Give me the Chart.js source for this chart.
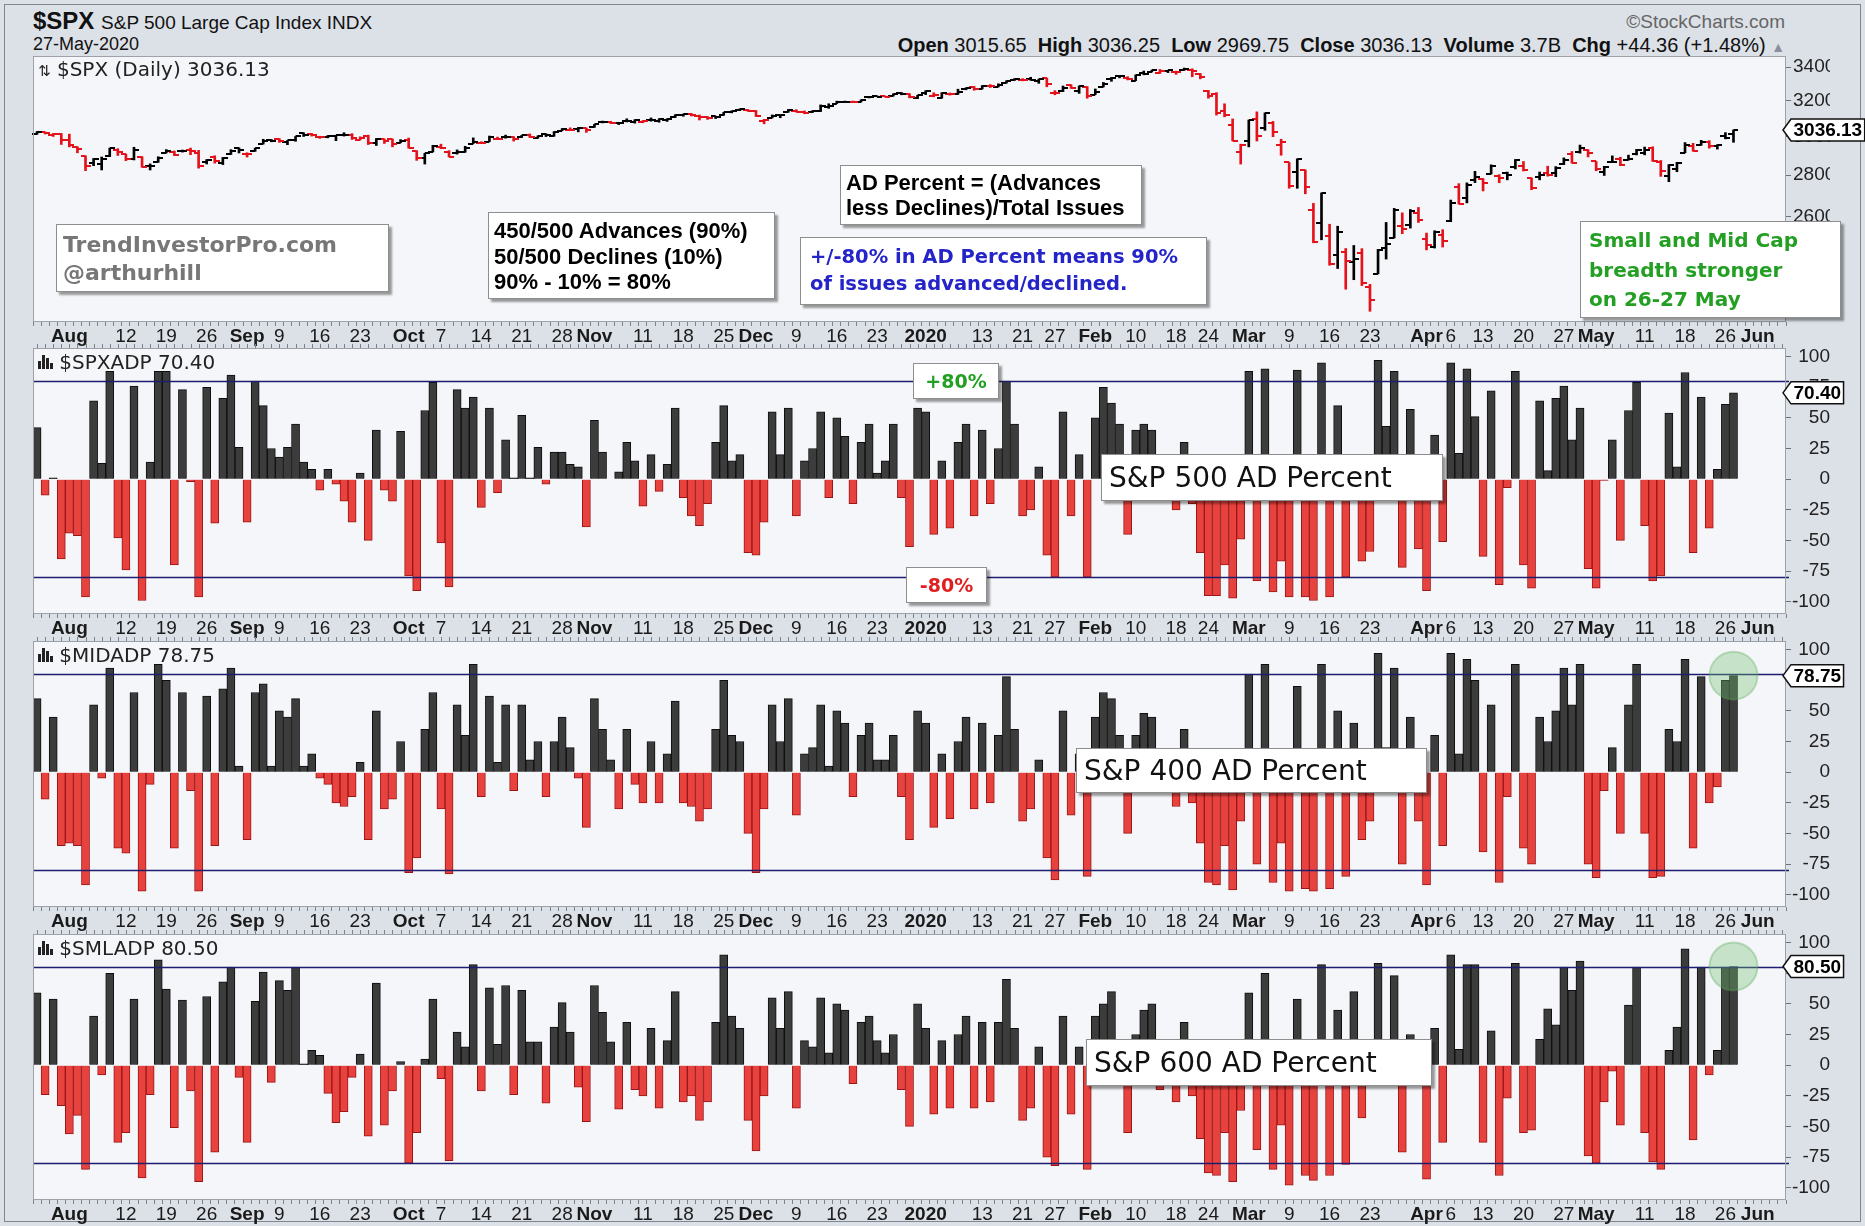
<!DOCTYPE html>
<html>
<head>
<meta charset="utf-8">
<title>$SPX AD Percent</title>
<script src="https://cdn.jsdelivr.net/npm/chart.js@4.4.1/dist/chart.umd.min.js"></script>
<style>
html,body{margin:0;padding:0}
body{width:1865px;height:1226px;position:relative;overflow:hidden;background:#dce0e7;font-family:"Liberation Sans",Arial,sans-serif;color:#111}
#frame{position:absolute;left:4px;top:4px;width:1857px;height:1218px;border:1px solid #80868f;box-sizing:border-box}
.cw{position:absolute;left:0;width:1865px;height:308px}
.t{position:absolute;white-space:nowrap}
.pt{position:absolute;left:38px;font-family:"DejaVu Sans",sans-serif;font-size:20px;line-height:20px;color:#222;white-space:nowrap}
.box{position:absolute;background:#fff;border:1px solid #8e8e8e;box-shadow:3px 3px 2px rgba(0,0,0,.38);box-sizing:border-box;white-space:nowrap}
.ar{font-family:"Liberation Sans",Arial,sans-serif;font-weight:bold;font-size:22px;color:#000}
.dj{font-family:"DejaVu Sans",sans-serif;font-weight:bold}
.big{font-family:"DejaVu Sans",sans-serif;font-size:28px;color:#111;line-height:45px;padding-left:7px}
</style>
</head>
<body>
<div id="frame"></div>

<div class="t" style="left:33px;top:8px;font-size:24px;line-height:25px;font-weight:bold">$SPX <span style="font-size:19px;font-weight:normal">S&amp;P 500 Large Cap Index INDX</span></div>
<div class="t" style="left:33px;top:35px;font-size:18px;line-height:19px">27-May-2020</div>
<div class="t" style="right:80px;top:12px;font-size:19px;line-height:20px;color:#666">©StockCharts.com</div>
<div class="t" style="right:80px;top:35px;font-size:20px;line-height:20px"><b>Open</b> 3015.65&nbsp; <b>High</b> 3036.25&nbsp; <b>Low</b> 2969.75&nbsp; <b>Close</b> 3036.13&nbsp; <b>Volume</b> 3.7B&nbsp; <b>Chg</b> +44.36 (+1.48%) <span style="color:#8a8f99;font-size:14px">▲</span></div>

<div class="cw" style="top:40px"><canvas id="cPrice" width="1865" height="308"></canvas></div>
<div class="cw" style="top:332px"><canvas id="cSpx" width="1865" height="308"></canvas></div>
<div class="cw" style="top:625px"><canvas id="cMid" width="1865" height="308"></canvas></div>
<div class="cw" style="top:918px"><canvas id="cSml" width="1865" height="308"></canvas></div>

<div class="pt" style="top:59px"><span style="font-size:15px">⇅</span> $SPX (Daily) 3036.13</div>
<div class="pt" style="top:352px"><svg width="15" height="15" viewBox="0 0 15 15"><rect x="0" y="7" width="3" height="8" fill="#222"/><rect x="4" y="1" width="3" height="14" fill="#222"/><rect x="8" y="4" width="3" height="11" fill="#222"/><rect x="12" y="9" width="3" height="6" fill="#222"/></svg> $SPXADP 70.40</div>
<div class="pt" style="top:645px"><svg width="15" height="15" viewBox="0 0 15 15"><rect x="0" y="7" width="3" height="8" fill="#222"/><rect x="4" y="1" width="3" height="14" fill="#222"/><rect x="8" y="4" width="3" height="11" fill="#222"/><rect x="12" y="9" width="3" height="6" fill="#222"/></svg> $MIDADP 78.75</div>
<div class="pt" style="top:938px"><svg width="15" height="15" viewBox="0 0 15 15"><rect x="0" y="7" width="3" height="8" fill="#222"/><rect x="4" y="1" width="3" height="14" fill="#222"/><rect x="8" y="4" width="3" height="11" fill="#222"/><rect x="12" y="9" width="3" height="6" fill="#222"/></svg> $SMLADP 80.50</div>

<div class="box dj" style="left:56px;top:224px;width:333px;height:68px;padding:6px 0 0 6px;font-size:22px;line-height:28px;color:#777">TrendInvestorPro.com<br>@arthurhill</div>
<div class="box ar" style="left:488px;top:212px;width:287px;height:87px;padding:5px 0 0 5px;line-height:25.5px">450/500 Advances (90%)<br>50/500 Declines (10%)<br>90% - 10% = 80%</div>
<div class="box ar" style="left:840px;top:165px;width:302px;height:60px;padding:4px 0 0 5px;line-height:25px">AD Percent = (Advances<br>less Declines)/Total Issues</div>
<div class="box dj" style="left:800px;top:237px;width:407px;height:68px;padding:5px 0 0 9px;font-size:19.5px;line-height:27px;color:#2424c8">+/-80% in AD Percent means 90%<br>of issues advanced/declined.</div>
<div class="box dj" style="left:1580px;top:221px;width:261px;height:97px;padding:4px 0 0 8px;font-size:20px;line-height:29.5px;color:#23a023">Small and Mid Cap<br>breadth stronger<br>on 26-27 May</div>
<div class="box dj" style="left:913px;top:363px;width:86px;height:36px;font-size:19px;line-height:34px;text-align:center;color:#23a023">+80%</div>
<div class="box dj" style="left:906px;top:567px;width:81px;height:36px;font-size:19px;line-height:34px;text-align:center;color:#e02020">-80%</div>
<div class="box big" style="left:1101px;top:454px;width:342px;height:47px">S&amp;P 500 AD Percent</div>
<div class="box big" style="left:1076px;top:748px;width:351px;height:45px;line-height:43px">S&amp;P 400 AD Percent</div>
<div class="box big" style="left:1086px;top:1039px;width:346px;height:47px">S&amp;P 600 AD Percent</div>

<script>
// ---------- DATA ----------
const tradingMonths = [
  ['2019-07', [26,29,30,31]],
  ['2019-08', [1,2,5,6,7,8,9,12,13,14,15,16,19,20,21,22,23,26,27,28,29,30]],
  ['2019-09', [3,4,5,6,9,10,11,12,13,16,17,18,19,20,23,24,25,26,27,30]],
  ['2019-10', [1,2,3,4,7,8,9,10,11,14,15,16,17,18,21,22,23,24,25,28,29,30,31]],
  ['2019-11', [1,4,5,6,7,8,11,12,13,14,15,18,19,20,21,22,25,26,27,29]],
  ['2019-12', [2,3,4,5,6,9,10,11,12,13,16,17,18,19,20,23,24,26,27,30,31]],
  ['2020-01', [2,3,6,7,8,9,10,13,14,15,16,17,21,22,23,24,27,28,29,30,31]],
  ['2020-02', [3,4,5,6,7,10,11,12,13,14,18,19,20,21,24,25,26,27,28]],
  ['2020-03', [2,3,4,5,6,9,10,11,12,13,16,17,18,19,20,23,24,25,26,27,30,31]],
  ['2020-04', [1,2,3,6,7,8,9,13,14,15,16,17,20,21,22,23,24,27,28,29,30]],
  ['2020-05', [1,4,5,6,7,8,11,12,13,14,15,18,19,20,21,22,26,27,28,29]],
  ['2020-06', [1,2,3,4]]
];

const xTickDates = ['2019-08-01','2019-08-12','2019-08-19','2019-08-26','2019-09-03','2019-09-09','2019-09-16','2019-09-23',
  '2019-10-01','2019-10-07','2019-10-14','2019-10-21','2019-10-28','2019-11-01','2019-11-11','2019-11-18','2019-11-25',
  '2019-12-02','2019-12-09','2019-12-16','2019-12-23','2020-01-02','2020-01-13','2020-01-21','2020-01-27','2020-02-03',
  '2020-02-10','2020-02-18','2020-02-24','2020-03-02','2020-03-09','2020-03-16','2020-03-23','2020-04-01','2020-04-06',
  '2020-04-13','2020-04-20','2020-04-27','2020-05-01','2020-05-11','2020-05-18','2020-05-26','2020-06-01'];
const xTickText = ['Aug','12','19','26','Sep','9','16','23','Oct','7','14','21','28','Nov','11','18','25',
  'Dec','9','16','23','2020','13','21','27','Feb','10','18','24','Mar','9','16','23','Apr','6',
  '13','20','27','May','11','18','26','Jun'];

const priceTicks = [2200, 2400, 2600, 2800, 3000, 3200, 3400];
const adTicks = [-100, -75, -50, -25, 0, 25, 50, 75, 100];
const adLevels = [80, -80];
const priorClose = 3003.67;

const spxOpen = [
3013.25,3024.47,3007.66,3016.22,2980.32,2943.90,2898.07,2861.18,2858.65,2896.21,
2930.51,2907.07,2880.72,2894.15,2846.20,2864.74,2913.48,2919.01,2922.04,2930.94,
2911.07,2866.70,2893.14,2861.28,2910.37,2937.09,2909.01,2924.67,2960.60,2980.33,
2988.43,2971.01,2981.41,3018.21,3012.21,2996.41,2995.67,3001.50,3010.36,3008.42,
2983.50,3002.43,2968.35,2985.73,2985.47,2967.07,2983.69,2924.78,2885.38,2918.56,
2944.23,2920.40,2911.10,2918.55,2963.07,2965.81,2973.61,2989.68,3000.77,2996.84,
2996.48,3010.73,2994.01,3014.78,3003.32,3032.12,3035.39,3039.74,3046.90,3050.72,
3078.96,3080.80,3075.10,3087.02,3081.25,3080.33,3089.28,3084.18,3090.75,3107.92,
3117.91,3127.45,3114.66,3108.49,3111.41,3117.44,3134.85,3145.49,3147.18,3143.85,
3087.41,3103.50,3119.21,3134.62,3141.86,3135.36,3135.75,3141.23,3166.65,3183.63,
3195.40,3195.21,3192.32,3223.33,3226.05,3225.45,3227.20,3247.23,3240.09,3215.18,
3244.67,3226.36,3217.55,3241.86,3238.59,3266.03,3281.81,3271.13,3285.35,3282.27,
3302.97,3323.66,3321.03,3330.02,3315.77,3333.10,3247.16,3255.35,3289.46,3256.45,
3282.33,3235.66,3280.61,3324.91,3344.92,3335.54,3318.28,3365.87,3370.50,3365.90,
3378.08,3369.04,3380.39,3380.45,3360.50,3257.61,3238.94,3139.90,3062.54,2916.90,
2974.28,3096.46,3045.75,3075.70,2954.20,2863.89,2813.48,2825.60,2630.86,2569.99,
2508.59,2425.66,2436.50,2393.48,2431.94,2290.71,2344.44,2457.77,2501.29,2555.87,
2558.98,2614.69,2498.08,2458.54,2514.92,2578.28,2738.65,2685.00,2776.99,2782.46,
2805.10,2795.64,2812.64,2842.43,2845.62,2784.81,2787.89,2810.42,2812.64,2854.65,
2909.96,2918.46,2930.91,2869.09,2815.01,2868.88,2883.14,2878.26,2908.83,2915.46,
2939.50,2865.86,2794.54,2829.95,2913.86,2948.59,2953.63,2969.95,2948.05,3004.08,
3015.65];
const spxHigh = [
3027.98,3025.61,3017.19,3017.40,3013.59,2945.50,2898.07,2884.40,2892.17,2938.72,
2935.75,2907.58,2943.31,2894.15,2856.67,2893.63,2931.00,2923.63,2928.73,2939.08,
2927.01,2879.27,2898.79,2890.03,2930.50,2940.43,2914.39,2938.84,2985.86,2985.03,
2989.43,2979.39,3000.93,3020.74,3017.33,3002.19,3006.21,3007.83,3021.19,3016.37,
2999.15,3007.98,2989.82,2987.28,2987.31,2983.85,2992.53,2924.78,2911.13,2953.74,
2959.75,2925.47,2929.32,2948.46,2993.28,2972.84,3003.28,2997.54,3008.29,3000.00,
3007.33,3014.57,3004.78,3016.07,3027.39,3044.08,3047.87,3050.10,3046.90,3066.95,
3085.20,3083.95,3078.34,3097.77,3093.09,3088.33,3102.61,3098.06,3098.20,3120.46,
3124.17,3127.64,3118.97,3110.11,3112.87,3133.83,3142.69,3154.26,3150.30,3144.31,
3094.97,3119.38,3119.45,3150.60,3148.87,3142.12,3143.98,3176.28,3182.68,3197.71,
3198.22,3198.48,3205.48,3225.65,3227.78,3226.43,3240.08,3247.93,3240.92,3231.72,
3258.14,3246.15,3246.84,3244.91,3267.07,3275.58,3282.99,3288.13,3294.25,3298.66,
3317.11,3329.88,3329.79,3337.77,3326.88,3333.18,3258.85,3285.78,3293.47,3285.91,
3282.33,3268.44,3306.92,3337.58,3347.96,3341.42,3352.26,3375.63,3381.47,3385.09,
3380.69,3375.01,3393.52,3389.15,3360.76,3259.81,3246.99,3182.51,3097.07,2959.72,
3090.96,3136.72,3130.97,3083.04,2985.93,2863.89,2882.59,2825.60,2660.95,2711.33,
2562.98,2553.93,2453.57,2466.97,2453.01,2300.73,2449.71,2571.42,2637.01,2615.91,
2631.80,2641.39,2522.75,2533.22,2538.18,2676.85,2756.89,2760.75,2818.57,2782.46,
2851.85,2801.88,2815.01,2879.22,2868.98,2785.54,2815.10,2844.90,2842.71,2887.72,
2921.15,2954.86,2930.91,2869.09,2844.24,2898.23,2891.11,2901.92,2932.16,2944.25,
2945.82,2874.14,2852.80,2865.01,2968.09,2964.21,2980.29,2978.50,2956.76,3021.72,
3036.25];
const spxLow = [
3012.59,3014.30,3000.94,2958.08,2945.23,2914.11,2822.12,2847.42,2825.71,2894.47,
2900.15,2873.14,2877.05,2839.64,2825.51,2864.74,2913.48,2899.60,2917.91,2904.51,
2834.97,2856.00,2860.59,2853.05,2905.67,2913.32,2891.85,2921.86,2960.60,2972.51,
2969.39,2957.01,2975.31,3000.92,3002.90,2990.67,2993.73,2978.57,3003.16,2984.68,
2982.23,2957.73,2952.86,2963.71,2945.53,2967.07,2938.70,2874.93,2855.94,2918.56,
2935.68,2892.66,2907.41,2917.12,2963.07,2962.94,2973.61,2985.20,2991.79,2976.31,
2995.35,2995.04,2991.21,3000.42,3001.94,3032.12,3034.81,3025.96,3023.19,3050.72,
3074.87,3072.15,3065.89,3080.23,3073.58,3075.82,3084.73,3078.80,3083.26,3104.60,
3112.06,3113.47,3091.41,3094.55,3099.26,3117.44,3131.00,3143.41,3139.34,3110.78,
3070.33,3102.53,3103.76,3134.62,3135.46,3126.09,3133.21,3138.47,3156.51,3183.63,
3191.03,3191.14,3192.32,3216.03,3222.30,3220.51,3227.20,3234.37,3216.57,3212.03,
3235.53,3222.34,3214.64,3232.43,3236.67,3263.67,3260.86,3268.43,3277.19,3280.69,
3302.82,3318.86,3316.61,3320.04,3301.87,3281.53,3234.50,3253.22,3271.89,3242.80,
3214.68,3235.66,3280.61,3313.75,3334.39,3322.12,3317.77,3352.72,3369.72,3360.52,
3366.15,3355.61,3378.83,3341.02,3328.45,3214.65,3118.77,3108.99,2977.39,2855.84,
2945.19,2976.63,3034.38,2999.83,2901.54,2734.43,2734.00,2707.22,2478.86,2492.37,
2380.94,2367.04,2280.52,2319.78,2295.56,2191.86,2344.44,2407.53,2500.72,2520.02,
2545.28,2571.15,2447.49,2455.79,2459.96,2574.57,2657.67,2663.30,2762.36,2721.17,
2805.10,2761.54,2775.95,2830.88,2820.43,2727.10,2775.95,2794.26,2791.76,2852.89,
2860.71,2912.16,2892.47,2821.61,2797.85,2863.55,2847.65,2876.48,2902.88,2903.44,
2869.59,2793.15,2766.64,2816.78,2913.86,2922.35,2953.63,2938.57,2933.59,2988.17,
2969.75];
const spxClose = [
3025.86,3020.97,3013.18,2980.38,2953.56,2932.05,2844.74,2881.77,2883.98,2938.09,
2918.65,2882.70,2926.32,2840.60,2847.60,2888.68,2923.65,2900.51,2924.43,2922.95,
2847.11,2878.38,2869.16,2887.94,2924.58,2926.46,2906.27,2937.78,2976.00,2978.71,
2978.43,2979.39,3000.93,3009.57,3007.39,2997.96,3005.70,3006.73,3006.79,2992.07,
2991.78,2966.60,2984.87,2977.62,2961.79,2976.74,2940.25,2887.61,2910.63,2952.01,
2938.79,2893.06,2919.40,2938.13,2970.27,2966.15,2995.68,2989.69,2997.95,2986.20,
3006.72,2995.99,3004.52,3010.29,3022.55,3039.42,3036.89,3046.77,3037.56,3066.91,
3078.27,3074.62,3076.78,3085.18,3093.08,3087.01,3091.84,3094.04,3096.63,3120.46,
3122.03,3120.18,3108.46,3103.54,3110.29,3133.64,3140.52,3153.63,3140.98,3113.87,
3093.20,3112.76,3117.43,3145.91,3135.96,3132.52,3141.63,3168.57,3168.80,3191.45,
3192.52,3191.14,3205.37,3221.22,3224.01,3223.38,3239.91,3240.02,3221.29,3230.78,
3257.85,3234.85,3246.28,3237.18,3253.05,3274.70,3265.35,3288.13,3283.15,3289.29,
3316.81,3329.62,3320.79,3321.75,3325.54,3295.47,3243.63,3276.24,3273.40,3283.66,
3225.52,3248.92,3297.59,3334.69,3345.78,3327.71,3352.09,3357.75,3379.45,3373.94,
3380.16,3370.29,3386.15,3373.23,3337.75,3225.89,3128.21,3116.39,2978.76,2954.22,
3090.23,3003.37,3130.12,3023.94,2972.37,2746.56,2882.23,2741.38,2480.64,2711.02,
2386.13,2529.19,2398.10,2409.39,2304.92,2237.40,2447.33,2475.56,2630.07,2541.47,
2626.65,2584.59,2470.50,2526.90,2488.65,2663.68,2659.41,2749.98,2789.82,2761.63,
2846.06,2783.36,2799.55,2874.56,2823.16,2736.56,2799.31,2797.80,2836.74,2878.48,
2863.39,2939.51,2912.43,2830.71,2842.74,2868.44,2848.42,2881.19,2929.80,2930.32,
2870.12,2820.00,2852.50,2863.70,2953.91,2922.94,2971.61,2948.51,2955.45,2991.77,
3036.13];

const spxAD = [
42,-13,1,-65,-44,-46,-96,64,13,88,
-48,-74,76,-99,14,88,88,-70,73,-2,
-96,75,-36,66,85,26,-35,80,60,25,
18,26,45,14,8,-9,8,-4,-18,-35,
5,-50,40,-9,-18,39,-79,-91,56,79,
-52,-88,73,58,67,-23,58,-11,32,1,
52,1,26,-4,22,22,12,10,-39,48,
22,0,6,30,15,-22,20,-10,12,58,
-15,-30,-38,-20,30,60,15,20,-60,-62,
-35,55,20,58,-30,15,25,55,-15,50,
35,-20,30,45,5,15,45,-15,-55,58,
55,-45,15,-40,30,45,-30,40,-20,25,
80,45,-30,-25,10,-62,-80,55,-30,20,
-80,50,75,62,45,-45,40,45,40,-10,
10,-25,30,-20,-60,-95,-95,-70,-97,-49,
88,-83,90,-92,-67,-96,89,-96,-99,95,
-96,60,-80,5,-67,-59,97,43,88,-72,
57,-57,-91,36,-51,95,21,90,51,-63,
72,-86,-7,88,-70,-89,64,7,66,76,
32,58,-73,-89,-1,32,-50,56,79,-38,
-83,-79,54,10,87,-60,67,-40,8,61,
70.40];
const midAD = [
60,-22,45,-60,-58,-60,-92,55,-5,85,
-62,-66,65,-97,-10,88,75,-62,65,-15,
-97,62,-60,68,85,5,-55,65,72,5,
50,45,60,5,15,-5,-10,-25,-28,-20,
8,-55,50,-30,-22,25,-82,-70,35,65,
-30,-83,55,30,88,-20,62,8,55,-15,
55,10,25,-20,25,45,20,-5,-45,60,
35,10,-30,35,-10,-25,25,-25,15,58,
-25,-28,-40,-30,35,75,30,25,-50,-82,
-30,55,25,60,-35,15,20,55,5,50,
40,-20,30,40,10,10,30,-20,-55,50,
40,-45,15,-38,25,45,-30,40,-25,30,
78,35,-40,-30,10,-70,-88,50,-35,15,
-85,45,65,60,30,-50,30,48,45,-15,
5,-28,35,-25,-58,-90,-92,-60,-96,-40,
80,-75,88,-90,-58,-97,70,-95,-97,88,
-95,50,-85,40,-55,-40,97,20,85,-75,
45,-40,-92,30,-60,97,15,92,75,-65,
55,-90,-20,88,-62,-75,45,25,50,85,
55,88,-75,-86,-15,20,-50,55,88,-50,
-86,-85,35,25,92,-62,78,-25,-12,75,
78.75];
const smlAD = [
59,-24,54,-33,-56,-41,-85,40,-8,75,
-63,-55,54,-92,-24,86,62,-51,53,-21,
-95,56,-71,68,80,-10,-63,52,76,-14,
69,61,80,1,12,8,-23,-47,-38,-10,
9,-58,67,-49,-21,3,-80,-55,5,54,
-11,-78,27,15,82,-21,63,17,65,-24,
61,19,19,-31,31,51,27,-18,-46,65,
43,19,-36,35,-20,-25,30,-35,20,60,
-30,-25,-45,-30,35,90,40,30,-45,-70,
-25,55,30,60,-35,20,15,55,10,50,
45,-15,35,40,20,10,25,-20,-50,50,
30,-40,20,-35,25,40,-35,35,-30,35,
70,30,-45,-35,15,-75,-82,40,-40,15,
-85,40,50,60,20,-55,25,45,50,-20,
-10,-30,35,-25,-60,-88,-90,-55,-95,-37,
59,-69,75,-85,-49,-98,54,-90,-94,82,
-90,45,-81,60,-43,-15,83,10,73,-71,
25,-15,-93,30,-63,90,13,82,82,-63,
28,-90,-27,83,-55,-53,21,46,33,80,
61,85,-74,-80,-30,-5,-49,49,80,-55,
-79,-85,12,31,95,-61,80,-8,12,80,
80.50];

// ---------- BUILD ----------
const dates = [];
tradingMonths.forEach(([m, days]) => days.forEach(d => dates.push(m + '-' + String(d).padStart(2, '0'))));
const tickMap = {};
xTickDates.forEach((d, k) => { tickMap[d] = xTickText[k]; });
const isBold = s => s !== '' && (isNaN(+s) || s.length === 4);

const FONT = "'Liberation Sans', Arial, sans-serif";
Chart.defaults.animation = false;
Chart.defaults.font.family = FONT;

function xScale() {
  return {
    type: 'category', offset: true,
    grid: {display: true, drawOnChartArea: false, drawTicks: true, tickLength: 4, color: '#7c828c', offset: true},
    border: {display: false},
    ticks: {
      autoSkip: false, maxRotation: 0, minRotation: 0, padding: -1, color: '#1a1a1a',
      callback: (v, i) => tickMap[dates[i]] || '',
      font: (c) => { const s = tickMap[dates[c.index]] || ''; return {family: FONT, size: 19, weight: isBold(s) ? 'bold' : 'normal'}; }
    },
    afterFit: (a) => { a.height = 26; }
  };
}
function yCommon(extra) {
  return Object.assign({
    position: 'right',
    grid: {drawOnChartArea: false, drawTicks: true, tickLength: 5, color: '#6c727c'},
    border: {display: false},
    afterFit: (a) => { a.width = 44; }
  }, extra);
}

const panelPlugin = {
  id: 'panel',
  beforeDraw(chart) {
    const {ctx, chartArea: a} = chart;
    ctx.save();
    ctx.fillStyle = '#f5f6f9';
    ctx.fillRect(a.left, a.top, a.right - a.left, a.bottom - a.top);
    ctx.restore();
  },
  afterDatasetsDraw(chart, args, o) {
    const {ctx, chartArea: a, scales} = chart;
    ctx.save();
    if (o.levels) {
      ctx.strokeStyle = '#1d1d70'; ctx.lineWidth = 1.6;
      o.levels.forEach(v => {
        const y = Math.round(scales.y.getPixelForValue(v)) + 0.5;
        ctx.beginPath(); ctx.moveTo(a.left, y); ctx.lineTo(a.right + 3, y); ctx.stroke();
      });
    }
    if (o.circle) {
      const x = scales.x.getPixelForValue(o.index), y = scales.y.getPixelForValue(o.value);
      ctx.beginPath(); ctx.arc(x, y, 24, 0, Math.PI * 2);
      ctx.fillStyle = 'rgba(112,192,112,0.35)'; ctx.fill();
      ctx.strokeStyle = 'rgba(90,170,90,0.35)'; ctx.lineWidth = 2; ctx.stroke();
    }
    ctx.restore();
  },
  afterDraw(chart, args, o) {
    const {ctx, chartArea: a, scales} = chart;
    ctx.save();
    ctx.strokeStyle = '#9ca1aa'; ctx.lineWidth = 1;
    ctx.strokeRect(a.left + 0.5, a.top + 0.5, a.right - a.left - 1, a.bottom - a.top - 1);
    if (o.topTicks) {
      ctx.strokeStyle = '#7c828c';
      ctx.beginPath();
      for (let i = 0; i < dates.length; i++) {
        const x = Math.round(scales.x.getPixelForValue(i)) + 0.5;
        ctx.moveTo(x, a.top - 4); ctx.lineTo(x, a.top);
      }
      ctx.stroke();
    }
    // last value tag
    const y = scales.y.getPixelForValue(o.value);
    const txt = o.value.toFixed(2);
    ctx.font = 'bold 19px ' + FONT;
    const tw = ctx.measureText(txt).width;
    const x0 = a.right - 3, x1 = a.right + 5, x2 = x1 + tw + 5, h = 11;
    ctx.beginPath();
    ctx.moveTo(x0, y); ctx.lineTo(x1, y - h); ctx.lineTo(x2, y - h); ctx.lineTo(x2, y + h); ctx.lineTo(x1, y + h); ctx.closePath();
    ctx.fillStyle = '#fff'; ctx.fill();
    ctx.lineWidth = 1.5; ctx.strokeStyle = '#111'; ctx.stroke();
    ctx.fillStyle = '#000'; ctx.textAlign = 'center'; ctx.textBaseline = 'middle';
    ctx.fillText(txt, (x1 + x2) / 2, y + 1);
    ctx.restore();
  }
};

const baseOptions = {
  responsive: false, devicePixelRatio: 1, animation: false,
  layout: {padding: {left: 33, right: 35, top: 16, bottom: 0}},
  events: []
};

function adChart(id, values, circle) {
  const last = values.length - 1;
  return new Chart(document.getElementById(id), {
    type: 'bar',
    data: {labels: dates, datasets: [{
      data: values,
      backgroundColor: values.map(v => v >= 0 ? '#3c3c3c' : '#e8423f'),
      borderColor: values.map(v => v >= 0 ? '#0e0e0e' : '#9a1616'),
      borderWidth: 1, barPercentage: 1, categoryPercentage: 1
    }]},
    options: Object.assign({}, baseOptions, {
      scales: {
        x: xScale(),
        y: yCommon({min: -110, max: 107,
          afterBuildTicks: (s) => { s.ticks = adTicks.map(v => ({value: v})); },
          ticks: {crossAlign: 'far', color: '#222', font: {family: FONT, size: 19}, callback: v => String(v)}})
      },
      plugins: {legend: {display: false}, tooltip: {enabled: false},
        panel: {value: values[last], index: last, levels: adLevels, circle: circle, topTicks: true}}
    }),
    plugins: [panelPlugin]
  });
}

// OHLC tick images
function tickImg(color, side) {
  const c = document.createElement('canvas'); c.width = 10; c.height = 2;
  const g = c.getContext('2d'); g.fillStyle = color;
  g.fillRect(side === 'L' ? 0 : 5, 0, 5, 2);
  return c;
}
const UPC = '#000000', DNC = '#e3121b';
const oUp = tickImg(UPC, 'L'), oDn = tickImg(DNC, 'L'), cUp = tickImg(UPC, 'R'), cDn = tickImg(DNC, 'R');
const up = spxClose.map((c, i) => c >= (i ? spxClose[i - 1] : priorClose));

new Chart(document.getElementById('cPrice'), {
  type: 'bar',
  data: {labels: dates, datasets: [
    {type: 'bar', data: spxLow.map((l, i) => [l, spxHigh[i]]), backgroundColor: up.map(u => u ? UPC : DNC),
     barThickness: 2, borderWidth: 0, order: 3},
    {type: 'line', data: spxOpen, showLine: false, pointRadius: 1, pointStyle: (c) => up[c.dataIndex] ? oUp : oDn, order: 2},
    {type: 'line', data: spxClose, showLine: false, pointRadius: 1, pointStyle: (c) => up[c.dataIndex] ? cUp : cDn, order: 1}
  ]},
  options: Object.assign({}, baseOptions, {
    scales: {
      x: xScale(),
      y: yCommon({type: 'logarithmic', min: 2150, max: 3468,
        afterBuildTicks: (s) => { s.ticks = priceTicks.map(v => ({value: v})); },
        ticks: {padding: 2, color: '#222', font: {family: FONT, size: 19}, callback: v => String(v)}})
    },
    plugins: {legend: {display: false}, tooltip: {enabled: false},
      panel: {value: spxClose[spxClose.length - 1], index: spxClose.length - 1}}
  }),
  plugins: [panelPlugin]
});

adChart('cSpx', spxAD, false);
adChart('cMid', midAD, true);
adChart('cSml', smlAD, true);
</script>
</body>
</html>
